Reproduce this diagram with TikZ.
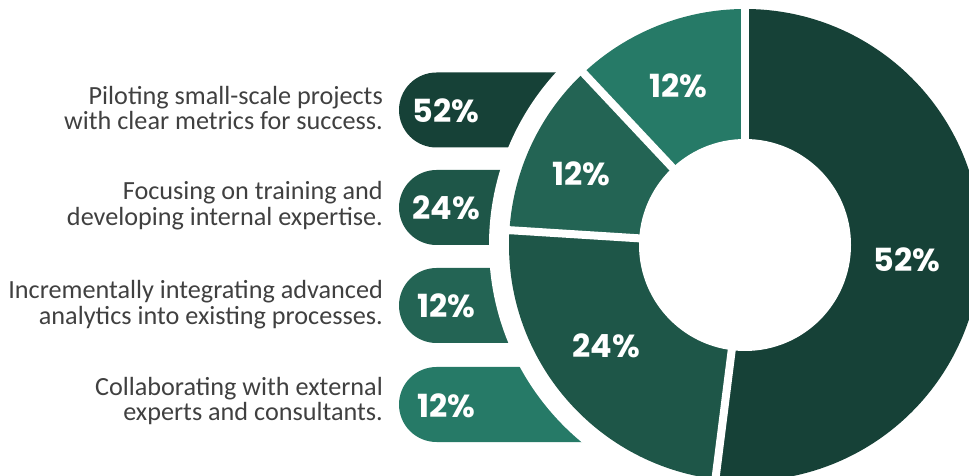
\documentclass[tikz,border=0pt]{standalone}
\usepackage{fontspec}
\setmainfont{Carlito}
\newfontfamily\pop{Poppins}
\definecolor{cA}{RGB}{22,65,55}
\definecolor{cB}{RGB}{30,86,72}
\definecolor{cC}{RGB}{35,100,84}
\definecolor{cD}{RGB}{38,122,103}
\definecolor{txtgray}{RGB}{64,64,64}
\tikzset{
  pill/.style={rounded corners=37.5bp},
  pct/.style={text=white, font=\pop\bfseries\fontsize{32}{32}\selectfont, inner sep=0pt, anchor=base},
  lbl/.style={text=txtgray, font=\fontsize{26.3}{26}\selectfont, align=right, anchor=east, inner sep=0pt},
  sep/.style={white, line width=8bp}
}
\begin{document}
\begin{tikzpicture}[x=1bp,y=-1bp]
\useasboundingbox (0,0) rectangle (969,476);
\clip (0,0) rectangle (969,476);
% pills
\fill[cA, pill] (399,72.5) rectangle (720,147.5);
\fill[cB, pill] (399,170) rectangle (720,245);
\fill[cC, pill] (399,268) rectangle (720,343);
\fill[cD, pill] (399,367) rectangle (720,442);
\fill[white] (745,245) circle[radius=256];
% donut
\coordinate (c) at (745,245);
\fill[cA] (c) -- ++(-90:236) arc[start angle=-90, end angle=97.2, radius=236] -- cycle;
\fill[cB] (c) -- ++(97.2:236) arc[start angle=97.2, end angle=183.6, radius=236] -- cycle;
\fill[cC] (c) -- ++(183.6:236) arc[start angle=183.6, end angle=226.8, radius=236] -- cycle;
\fill[cD] (c) -- ++(226.8:236) arc[start angle=226.8, end angle=270, radius=236] -- cycle;
\foreach \a in {-90,97.2,183.6,226.8} \draw[sep] (c) -- ++(\a:242);
\fill[white] (c) circle[radius=106];
% segment labels
\node[pct] (s1) at (907,272) {52\%};
\node[pct] (s2) at (606,358) {24\%};
\node[pct] (s3) at (581,186) {12\%};
\node[pct] (s4) at (678,98) {12\%};
% pill labels
\node[pct] (p1) at (446,122.5) {52\%};
\node[pct] (p2) at (446,220) {24\%};
\node[pct] (p3) at (446,318) {12\%};
\node[pct] (p4) at (446,417) {12\%};
% texts
\node[lbl] (t1) at (383,108) {Piloting small-scale projects\\with clear metrics for success.};
\node[lbl] (t2) at (383,206) {Focusing on training and\\developing internal expertise.};
\node[lbl] (t3) at (383,305) {Incrementally integrating advanced\\analytics into existing processes.};
\node[lbl] (t4) at (383,401) {Collaborating with external\\experts and consultants.};
\end{tikzpicture}
\end{document}
